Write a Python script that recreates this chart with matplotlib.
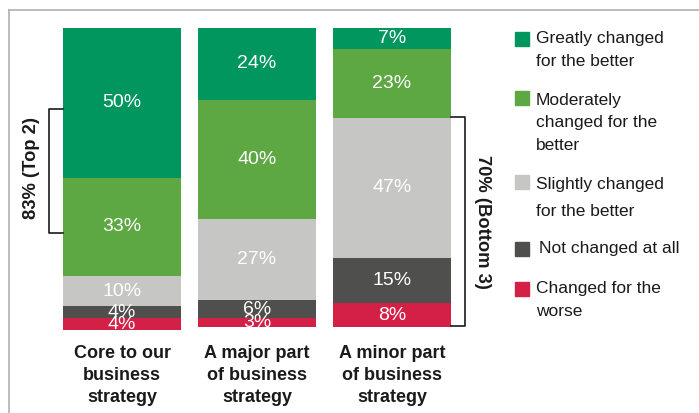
import matplotlib
matplotlib.use("Agg")
import matplotlib.pyplot as plt
from matplotlib.lines import Line2D
from matplotlib.patches import Rectangle

# data
categories = ["Core to our\nbusiness\nstrategy", "A major part\nof business\nstrategy", "A minor part\nof business\nstrategy"]
series_names = ["Greatly changed\nfor the better", "Moderately\nchanged for the\nbetter",
                "Slightly changed\nfor the better", "Not changed at all", "Changed for the\nworse"]
greatly = [50, 24, 7]
moderately = [33, 40, 23]
slightly = [10, 27, 47]
not_changed = [4, 6, 15]
worse = [4, 3, 8]
series = [greatly, moderately, slightly, not_changed, worse]
colors = ["#00965e", "#5ea843", "#c6c6c5", "#4f4f4e", "#d41f46"]

plt.rcParams["font.family"] = ["Liberation Sans", "DejaVu Sans"]

W, H = 699, 413
fig = plt.figure(figsize=(W / 100, H / 100), dpi=100)

def fx(px):
    return px / W

def fy(py):
    return 1 - py / H

# axes placed so that bar centres sit at 122, 257, 392 px and 100% = 299 px
ax = fig.add_axes([fx(30), fy(335), 450 / W, 307 / H])
step = 135.0
ax.set_xlim((30 - 122) / step, (480 - 122) / step)
ax.set_ylim(307 / 2.99, 0)
ax.axis("off")

x = list(range(len(categories)))
width = 118 / step
bottom = [0, 0, 0]
for vals, c in zip(series, colors):
    ax.bar(x, vals, bottom=bottom, width=width, color=c, linewidth=0)
    for i, v in enumerate(vals):
        ax.text(x[i], bottom[i] + v / 2, f"{v}%", ha="center", va="center",
                color="white", fontsize=14)
    bottom = [b + v for b, v in zip(bottom, vals)]

# category labels
for i, lab in enumerate(categories):
    ax.text(x[i], 106, lab, ha="center", va="top", fontsize=13,
            fontweight="bold", color="#1a1a1a", linespacing=1.38)

# brackets
left = -width / 2
ax.plot([left, -0.541, -0.541, left], [27.1, 27.1, 68.6, 68.6], color="#1a1a1a",
        lw=1.2, clip_on=False)
ax.text(-0.667, 46.8, "83% (Top 2)", rotation=90, ha="center", va="center",
        fontsize=13.2, fontweight="bold", color="#1a1a1a")
right = 2 + width / 2
ax.plot([right, 2.541, 2.541, right], [29.8, 29.8, 99.7, 99.7], color="#1a1a1a",
        lw=1.2, clip_on=False)
ax.text(2.667, 64.9, "70% (Bottom 3)", rotation=-90, ha="center", va="center",
        fontsize=13.2, fontweight="bold", color="#1a1a1a")

# legend
sq_tops = [32, 91, 175, 242, 282]
line_y = [[38, 62], [100, 122, 145], [184, 212], [249], [289, 312]]
text_x = [536, 536, 536, 539, 536]
for name, c, top, ys, tx in zip(series_names, colors, sq_tops, line_y, text_x):
    fig.add_artist(Rectangle((fx(515), fy(top + 14)), 14 / W, 14 / H, color=c,
                             transform=fig.transFigure))
    for line, yy in zip(name.split("\n"), ys):
        fig.text(fx(tx), fy(yy), line, ha="left", va="center", fontsize=12.5,
                 color="#1a1a1a")

# frame
fig.add_artist(Line2D([fx(9), 1], [fy(9.5), fy(9.5)], color="#b0b0b0", lw=1.2))
fig.add_artist(Line2D([fx(9), fx(9)], [fy(9.5), 0], color="#b0b0b0", lw=1.2))

fig.savefig("out.png", dpi=100)
